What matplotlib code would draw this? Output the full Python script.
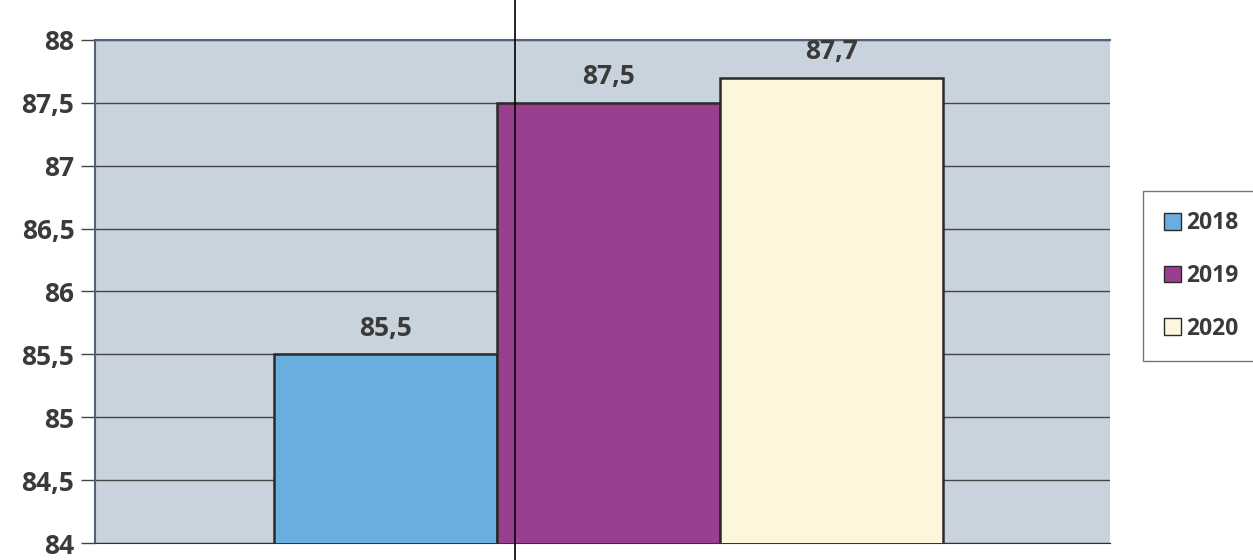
import matplotlib.pyplot as plt
from matplotlib.lines import Line2D
from matplotlib.patches import Patch

# data
years = ["2018", "2019", "2020"]
values = [85.5, 87.5, 87.7]
colors = ["#6aaee0", "#9a3f8f", "#fdf6dc"]
yticks = [84, 84.5, 85, 85.5, 86, 86.5, 87, 87.5, 88]

plt.rcParams['font.family'] = ['Open Sans', 'DejaVu Sans']

fig = plt.figure(figsize=(12.53, 5.6), dpi=100)
ax = fig.add_axes([0.076, 0.03, 0.81, 0.899])
ax.set_facecolor("#c9d3de")

xs = range(len(years))
ax.bar(xs, values, width=1.0, color=colors, edgecolor="#2a2a2a", linewidth=1.8, zorder=3)
for x, v in zip(xs, values):
    ax.text(x, v + 0.1, f"{v:.1f}".replace(".", ","), ha="center", va="bottom",
            fontsize=19, fontweight="bold", color="#3a3a3a")

ax.set_ylim(84, 88)
ax.set_xlim(-1.3, 3.25)
ax.set_yticks(yticks)
ax.set_yticklabels([f"{t:g}".replace(".", ",") for t in yticks],
                   fontsize=19, fontweight="bold", color="#3a3a3a")
ax.tick_params(axis="y", length=10, width=1, color="#444444", pad=5)
ax.set_xticks([])
ax.yaxis.grid(True, color="#444444", linewidth=1)
ax.set_axisbelow(True)

for s in ["left", "top"]:
    ax.spines[s].set_color("#55627e")
    ax.spines[s].set_linewidth(1.5)
ax.spines["bottom"].set_color("#333333")
ax.spines["right"].set_visible(False)

handles = [Patch(facecolor=c, edgecolor="#2a2a2a", label=y) for c, y in zip(colors, years)]
leg = fig.legend(handles=handles, loc="upper left", bbox_to_anchor=(0.903, 0.68),
                 prop={"size": 16.5, "weight": "bold"}, frameon=True, fancybox=False,
                 handlelength=0.75, handleheight=0.75, handletextpad=0.25,
                 labelspacing=1.25, borderpad=0.9, edgecolor="#555555")
for t in leg.get_texts():
    t.set_color("#3a3a3a")

# vertical line across the scan
fig.add_artist(Line2D([0.411, 0.411], [0, 1], color="black", linewidth=1.2))

fig.savefig("out.png", dpi=100)
